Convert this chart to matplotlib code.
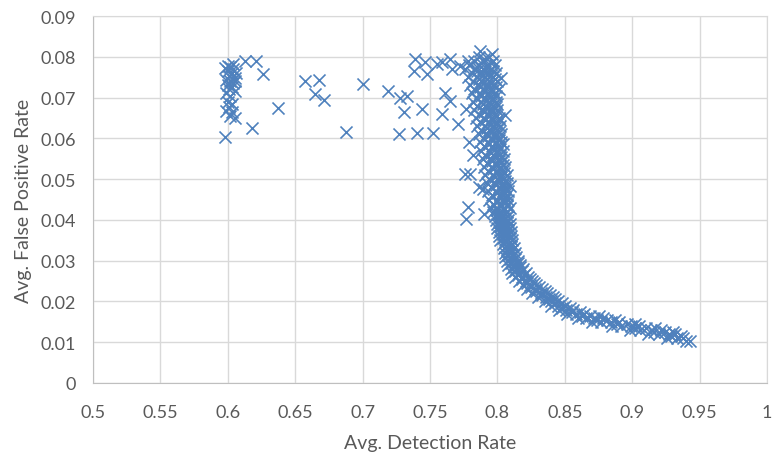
import matplotlib.pyplot as plt

plt.rcParams['font.family'] = ['Lato', 'DejaVu Sans']

# left cluster around 0.6
left_x = [0.598, 0.600, 0.602, 0.604, 0.600, 0.603, 0.601, 0.605, 0.599, 0.602,
          0.604, 0.600, 0.603, 0.601, 0.605, 0.599, 0.602, 0.600, 0.603, 0.601,
          0.599, 0.603, 0.602, 0.605, 0.606, 0.605, 0.598, 0.604]
left_y = [0.0603, 0.0778, 0.0775, 0.0770, 0.0765, 0.0760, 0.0752, 0.0748, 0.0744, 0.0740,
          0.0735, 0.0730, 0.0727, 0.0720, 0.0716, 0.0712, 0.0705, 0.0690, 0.0685, 0.0676,
          0.0668, 0.0664, 0.0655, 0.0650, 0.0760, 0.0740, 0.0772, 0.0782]

# sparse points between 0.61 and 0.78
mid_x = [0.613, 0.621, 0.626, 0.637, 0.618, 0.657, 0.668, 0.665, 0.671, 0.688,
         0.700, 0.719, 0.728, 0.733, 0.731, 0.744, 0.727, 0.740, 0.752, 0.759,
         0.761, 0.739, 0.738, 0.746, 0.748, 0.755, 0.759, 0.765, 0.766, 0.772,
         0.778, 0.765, 0.771, 0.777]
mid_y = [0.0790, 0.0790, 0.0758, 0.0674, 0.0625, 0.0741, 0.0744, 0.0709, 0.0693, 0.0616,
         0.0733, 0.0717, 0.0700, 0.0705, 0.0664, 0.0672, 0.0611, 0.0613, 0.0613, 0.0659,
         0.0712, 0.0795, 0.0766, 0.0786, 0.0758, 0.0782, 0.0786, 0.0795, 0.0770, 0.0778,
         0.0790, 0.0692, 0.0635, 0.0672]

# outliers around the main column
out_x = [0.787, 0.796, 0.803, 0.806, 0.804, 0.776, 0.786, 0.809, 0.778, 0.777,
         0.790, 0.789, 0.780, 0.782, 0.779]
out_y = [0.0815, 0.0807, 0.0747, 0.0656, 0.0586, 0.0513, 0.0480, 0.0484, 0.0431, 0.0402,
         0.0414, 0.0476, 0.0513, 0.0560, 0.0590]

# dense column, rows of equal fpr
col_y = [0.080, 0.079, 0.078, 0.077, 0.076, 0.075, 0.074, 0.073, 0.072, 0.071,
         0.070, 0.069, 0.068, 0.067, 0.066, 0.065, 0.064, 0.063, 0.062, 0.061,
         0.060, 0.059, 0.058, 0.057, 0.056, 0.055, 0.054, 0.053, 0.052, 0.051,
         0.050, 0.049, 0.048, 0.047, 0.046, 0.045, 0.044, 0.043, 0.042, 0.041,
         0.040, 0.039, 0.038, 0.037, 0.036, 0.035, 0.034, 0.033, 0.032, 0.031,
         0.030, 0.029, 0.028, 0.027, 0.026, 0.025, 0.024, 0.023, 0.022, 0.021,
         0.020, 0.019, 0.018, 0.017, 0.016, 0.015, 0.014, 0.013, 0.012, 0.011,
         0.0103]
col_x = [
    [0.786, 0.794],
    [0.783, 0.790, 0.797],
    [0.779, 0.786, 0.792, 0.798],
    [0.776, 0.783, 0.789, 0.795],
    [0.781, 0.787, 0.793, 0.799],
    [0.778, 0.785, 0.791, 0.797],
    [0.782, 0.788, 0.794, 0.800],
    [0.780, 0.786, 0.792, 0.797],
    [0.783, 0.789, 0.795, 0.801],
    [0.781, 0.787, 0.793, 0.798],
    [0.784, 0.790, 0.796],
    [0.782, 0.788, 0.794, 0.799],
    [0.785, 0.791, 0.797],
    [0.783, 0.789, 0.795, 0.800],
    [0.786, 0.792, 0.798],
    [0.784, 0.790, 0.796, 0.801],
    [0.787, 0.793, 0.799],
    [0.785, 0.791, 0.797, 0.802],
    [0.788, 0.794, 0.800],
    [0.786, 0.792, 0.798, 0.803],
    [0.789, 0.795, 0.801],
    [0.787, 0.793, 0.799, 0.803],
    [0.790, 0.796, 0.801],
    [0.788, 0.794, 0.800, 0.804],
    [0.791, 0.797, 0.802],
    [0.789, 0.795, 0.801, 0.805],
    [0.792, 0.798, 0.803],
    [0.790, 0.796, 0.802, 0.806],
    [0.793, 0.799, 0.804],
    [0.791, 0.797, 0.803, 0.807],
    [0.794, 0.800, 0.805],
    [0.792, 0.798, 0.804, 0.807],
    [0.795, 0.801, 0.806],
    [0.793, 0.799, 0.804, 0.808],
    [0.796, 0.802, 0.807],
    [0.794, 0.800, 0.805, 0.808],
    [0.797, 0.802, 0.807],
    [0.795, 0.800, 0.805, 0.809],
    [0.797, 0.802, 0.807],
    [0.798, 0.803, 0.808],
    [0.799, 0.804, 0.808],
    [0.800, 0.804, 0.809],
    [0.800, 0.805, 0.809],
    [0.801, 0.805, 0.810],
    [0.801, 0.806, 0.810],
    [0.802, 0.806, 0.811],
    [0.804, 0.808, 0.811],
    [0.805, 0.808, 0.812],
    [0.806, 0.809, 0.813],
    [0.806, 0.810, 0.814],
    [0.807, 0.811, 0.815],
    [0.808, 0.812, 0.817],
    [0.810, 0.814, 0.819],
    [0.811, 0.816, 0.821],
    [0.813, 0.818, 0.823],
    [0.816, 0.821, 0.826],
    [0.819, 0.824, 0.829],
    [0.822, 0.828, 0.833],
    [0.826, 0.832, 0.837],
    [0.830, 0.836, 0.841],
    [0.835, 0.840, 0.845],
    [0.840, 0.845, 0.850],
    [0.846, 0.851, 0.856],
    [0.852, 0.858, 0.864],
    [0.860, 0.866, 0.872, 0.878],
    [0.870, 0.877, 0.884, 0.890],
    [0.885, 0.892, 0.899, 0.905],
    [0.898, 0.906, 0.914, 0.921],
    [0.912, 0.920, 0.927, 0.932],
    [0.926, 0.933, 0.938],
    [0.940, 0.943],
]

# in-between rows that fill the column
half_y = [0.0795, 0.0785, 0.0775, 0.0765, 0.0755, 0.0745, 0.0735, 0.0725, 0.0715, 0.0705,
          0.0695, 0.0685, 0.0675, 0.0665, 0.0655, 0.0645, 0.0635, 0.0625, 0.0615, 0.0605,
          0.0595, 0.0585, 0.0575, 0.0565, 0.0555, 0.0545, 0.0535, 0.0525, 0.0515, 0.0505,
          0.0495, 0.0485, 0.0475, 0.0465, 0.0455, 0.0445, 0.0435, 0.0425, 0.0415, 0.0405,
          0.0395, 0.0385, 0.0375, 0.0365, 0.0355, 0.0345, 0.0335, 0.0325, 0.0315, 0.0305,
          0.0295, 0.0285, 0.0275, 0.0265, 0.0255, 0.0245, 0.0235, 0.0225, 0.0215, 0.0205,
          0.0195, 0.0185, 0.0175, 0.0165, 0.0155, 0.0145, 0.0135, 0.0125, 0.0115]
half_x = [
    [0.790], [0.788, 0.795], [0.785, 0.792], [0.785, 0.791, 0.797], [0.789, 0.795],
    [0.786, 0.792, 0.798], [0.790, 0.795], [0.787, 0.793, 0.799], [0.791, 0.796],
    [0.788, 0.794, 0.799], [0.792, 0.797], [0.789, 0.795, 0.800], [0.793, 0.798],
    [0.790, 0.796], [0.794, 0.799], [0.791, 0.797, 0.802], [0.795, 0.800],
    [0.792, 0.798], [0.796, 0.801], [0.793, 0.799], [0.797, 0.801], [0.794, 0.799],
    [0.797, 0.802], [0.795, 0.800], [0.798, 0.803], [0.796, 0.801], [0.799, 0.804],
    [0.797, 0.802], [0.800, 0.805], [0.798, 0.803], [0.801, 0.806], [0.799, 0.804],
    [0.802, 0.806], [0.800, 0.805], [0.803, 0.806], [0.800, 0.805], [0.802, 0.807],
    [0.800, 0.805], [0.801, 0.806], [0.802, 0.806], [0.802, 0.807], [0.803, 0.807],
    [0.803, 0.808], [0.804, 0.808], [0.804, 0.809], [0.806, 0.809], [0.807, 0.810],
    [0.807, 0.811], [0.808, 0.812], [0.809, 0.813], [0.810, 0.815], [0.812, 0.817],
    [0.813, 0.818], [0.815, 0.820], [0.818, 0.824], [0.822, 0.827], [0.825, 0.831],
    [0.829, 0.835], [0.833, 0.839], [0.838, 0.843], [0.843, 0.848], [0.848, 0.854],
    [0.855, 0.861], [0.863, 0.869, 0.875], [0.874, 0.881, 0.887], [0.889, 0.896, 0.902],
    [0.902, 0.910, 0.917], [0.916, 0.924, 0.930], [0.929, 0.936],
]

xs = left_x + mid_x + out_x
ys = left_y + mid_y + out_y
for yv, row in list(zip(col_y, col_x)) + list(zip(half_y, half_x)):
    for xv in row:
        xs.append(xv)
        ys.append(yv)

fig = plt.figure(figsize=(7.73, 4.6), dpi=100)
ax = fig.add_axes([93 / 773, 1 - 384 / 460, 674 / 773, 367 / 460])

ax.scatter(xs, ys, marker='x', s=75, linewidths=1.2, color='#4F81BD', zorder=3)

ax.set_xlim(0.5, 1.0)
ax.set_ylim(0, 0.09)
xt = [0.5, 0.55, 0.6, 0.65, 0.7, 0.75, 0.8, 0.85, 0.9, 0.95, 1.0]
yt = [0, 0.01, 0.02, 0.03, 0.04, 0.05, 0.06, 0.07, 0.08, 0.09]
ax.set_xticks(xt)
ax.set_xticklabels(['0.5', '0.55', '0.6', '0.65', '0.7', '0.75', '0.8', '0.85', '0.9', '0.95', '1'])
ax.set_yticks(yt)
ax.set_yticklabels(['0', '0.01', '0.02', '0.03', '0.04', '0.05', '0.06', '0.07', '0.08', '0.09'])
ax.tick_params(length=0, labelsize=13, labelcolor='#595959')
ax.tick_params(axis='x', pad=15)
ax.tick_params(axis='y', pad=12)

ax.grid(True, color='#D9D9D9', linewidth=1.0, zorder=0)
ax.set_axisbelow(True)
for side in ['top', 'right']:
    ax.spines[side].set_color('#D9D9D9')
for side in ['left', 'bottom']:
    ax.spines[side].set_color('#BFBFBF')

ax.set_xlabel('Avg. Detection Rate', fontsize=14, color='#595959', labelpad=10)
ax.set_ylabel('Avg. False Positive Rate', fontsize=14, color='#595959', labelpad=6)

plt.savefig('out.png', dpi=100)
